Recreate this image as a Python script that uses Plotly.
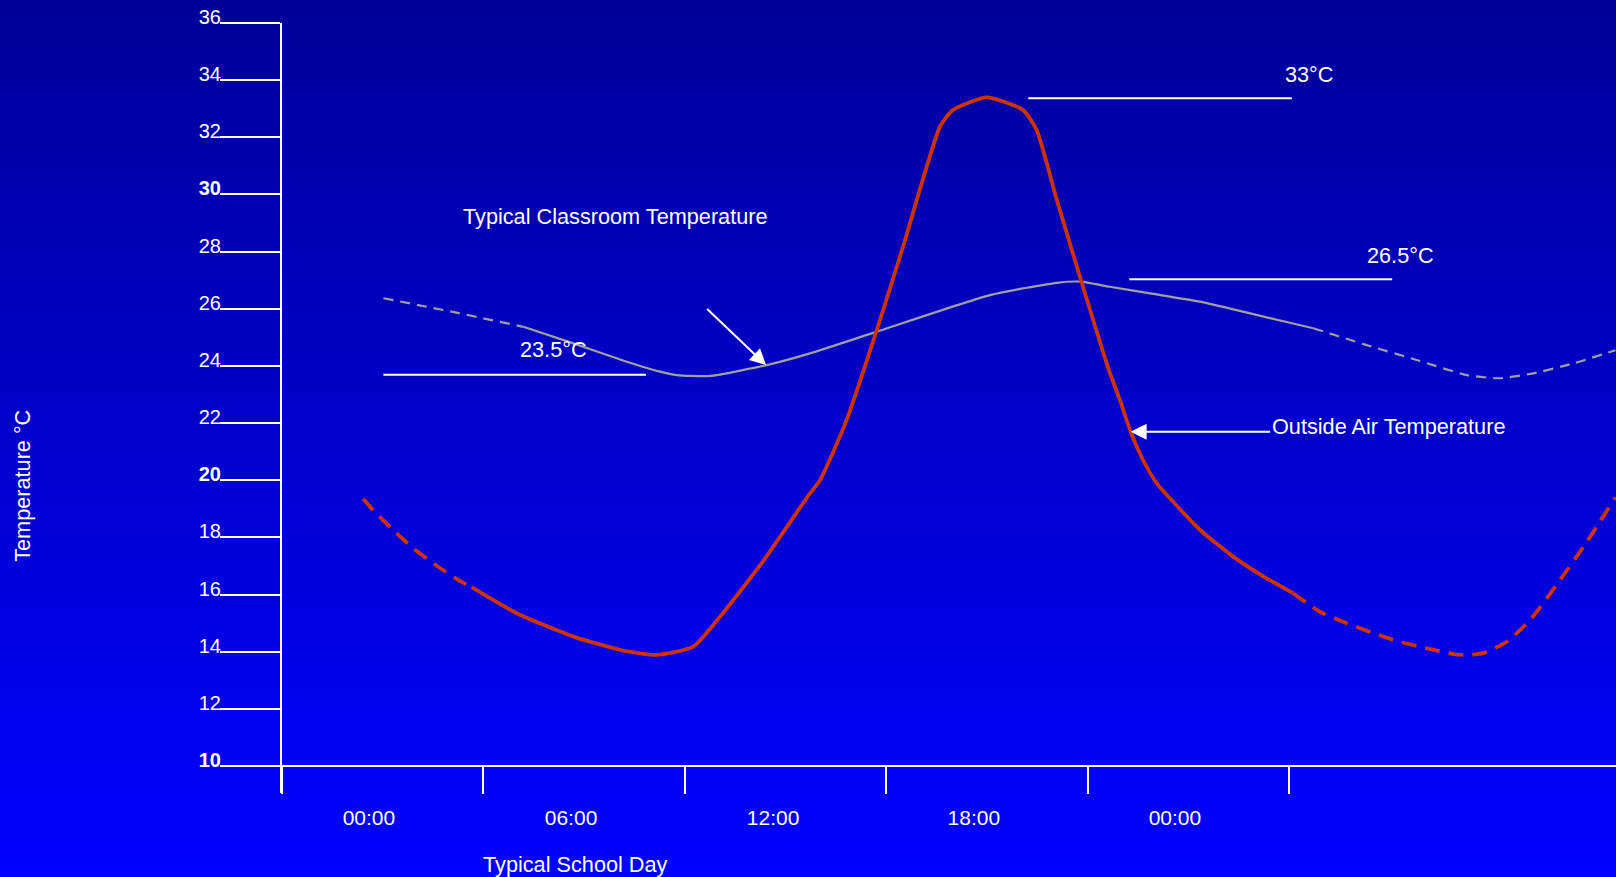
import plotly.graph_objects as go

# ---------------- data (hours from axis origin, °C) ----------------
outside_left_h = [2.42, 2.71, 3.31, 3.90, 4.62, 5.30, 5.65]
outside_left_t = [19.35, 18.96, 18.26, 17.63, 17.00, 16.48, 16.26]

outside_mid_h = [5.65, 6.99, 8.68, 10.17, 11.16, 12.25, 13.05, 14.32, 15.70, 16.03, 16.82,
                 17.72, 18.50, 19.60, 19.99, 20.99, 22.07, 22.48, 23.08, 23.86, 24.60, 24.96,
                 25.28, 25.65, 26.06, 26.45, 27.35, 28.33, 29.33, 30.12]
outside_mid_t = [16.26, 15.35, 14.53, 14.04, 13.89, 14.18, 15.23, 17.15, 19.50, 20.01, 22.11,
                 25.26, 28.17, 32.37, 32.96, 33.40, 32.96, 32.26, 29.81, 26.77, 23.97, 22.81,
                 21.70, 20.71, 19.89, 19.37, 18.26, 17.33, 16.57, 16.05]

outside_right_h = [30.12, 30.92, 31.72, 32.51, 33.30, 34.10, 34.94, 35.29, 35.79, 36.48,
                   37.18, 38.07, 38.87, 39.72]
outside_right_t = [16.05, 15.40, 15.00, 14.65, 14.35, 14.12, 13.91, 13.89, 13.95, 14.35,
                   15.11, 16.51, 17.85, 19.40]

class_left_h = [3.02, 5.09, 7.19]
class_left_t = [26.37, 25.89, 25.37]

class_mid_h = [7.19, 8.68, 10.27, 11.26, 11.76, 12.75, 14.44, 15.73, 17.72, 21.09, 23.08,
               23.77, 24.66, 25.86, 27.35, 28.84, 30.72]
class_mid_t = [25.37, 24.79, 24.15, 23.80, 23.68, 23.65, 24.03, 24.44, 25.20, 26.48, 26.91,
               26.95, 26.77, 26.54, 26.25, 25.84, 25.32]

class_right_h = [30.72, 32.31, 33.80, 35.29, 36.28, 37.27, 38.47, 39.72]
class_right_t = [25.32, 24.73, 24.21, 23.68, 23.57, 23.74, 24.09, 24.55]

y_tick_vals = [10, 12, 14, 16, 18, 20, 22, 24, 26, 28, 30, 32, 34, 36]
y_tick_text = ["<b>10</b>", "12", "14", "16", "18", "<b>20</b>", "22", "24", "26", "28",
               "<b>30</b>", "32", "34", "36"]
x_major_ticks = [0, 6, 12, 18, 24, 30]
x_labels = ["00:00", "06:00", "12:00", "18:00", "00:00"]
x_label_pos = [2.59, 8.61, 14.63, 20.61, 26.60]

# ---------------- layout geometry ----------------
W, H = 1616, 877
ML, MR, MT, MB = 282, 0, 23, 84
PX_PER_H = 33.57
PX_PER_C = 28.58
XMAX = (W - ML - MR) / PX_PER_H
YHI = 36.0
YLO = YHI - (H - MT - MB) / PX_PER_C
XAXIS_POS = (10 - YLO) / (YHI - YLO)


def px(h):
    return h / XMAX


def py(t):
    return (t - YLO) / (YHI - YLO)


FONT = "Liberation Sans, Arial, sans-serif"
RED = "#CC3300"
GREY = "#A0A0A0"
WHITE = "white"

fig = go.Figure()


def add_line(x, y, color, width, dash):
    fig.add_trace(go.Scatter(x=x, y=y, mode="lines",
                             line=dict(color=color, width=width, dash=dash,
                                       shape="spline", smoothing=0.55),
                             hoverinfo="skip", showlegend=False, cliponaxis=False))


add_line(class_left_h, class_left_t, GREY, 2.2, "10px,7px")
add_line(class_mid_h, class_mid_t, GREY, 2.2, "solid")
add_line(class_right_h, class_right_t, GREY, 2.2, "10px,7px")
add_line(outside_left_h, outside_left_t, RED, 3.8, "15px,9px")
add_line(outside_mid_h, outside_mid_t, RED, 3.8, "solid")
add_line(outside_right_h, outside_right_t, RED, 3.8, "15px,9px")

# ---------------- background gradient ----------------
shapes = []
N = 120
pw, ph = W - ML - MR, H - MT - MB
y_bottom = -MB / ph
y_top = 1 + MT / ph
for i in range(N):
    f0 = i / N
    f1 = (i + 1) / N
    c = 152 + (255 - 152) * ((f0 + f1) / 2)
    shapes.append(dict(type="rect", xref="paper", yref="paper",
                       x0=-ML / pw - 0.01, x1=1 + MR / pw + 0.01,
                       y0=y_top - (y_top - y_bottom) * f1 - 0.001,
                       y1=y_top - (y_top - y_bottom) * f0 + (0.01 if i == 0 else 0),
                       fillcolor=f"rgb(0,0,{int(round(c))})",
                       line=dict(width=0), layer="below"))

# leader lines for value labels
for (x0, x1, yv) in [(3.02, 10.84, 23.69), (22.23, 30.08, 33.37), (25.24, 33.07, 27.03)]:
    shapes.append(dict(type="line", xref="x", yref="y", x0=x0, x1=x1, y0=yv, y1=yv,
                       line=dict(color=WHITE, width=2), layer="above"))

tf = dict(family=FONT, size=21.7, color=WHITE)
C = dict(xanchor="center", yanchor="middle", showarrow=False, font=tf)
annotations = [
    dict(x=9.92, y=29.22, text="Typical Classroom Temperature", **C),
    dict(x=8.10, y=24.57, text="23.5°C", **C),
    dict(x=30.59, y=34.20, text="33°C", **C),
    dict(x=33.32, y=27.85, text="26.5°C", **C),
    dict(x=32.95, y=21.87, text="Outside Air Temperature", **C),
    dict(x=14.42, y=24.03, ax=12.62, ay=26.04, axref="x", ayref="y", text="",
         showarrow=True, arrowhead=2, arrowsize=1.6, arrowwidth=2, arrowcolor=WHITE, standoff=0),
    dict(x=25.28, y=21.70, ax=29.48, ay=21.70, axref="x", ayref="y", text="",
         showarrow=True, arrowhead=2, arrowsize=1.6, arrowwidth=2, arrowcolor=WHITE, standoff=0),
    dict(xref="paper", yref="paper", x=px(8.73), y=py(6.54), text="Typical School Day", **C),
    dict(xref="paper", yref="paper", x=px(-7.72), y=py(19.80), text="Temperature °C",
         textangle=-90, **C),
]

fig.update_layout(
    width=W, height=H, autosize=False,
    margin=dict(l=ML, r=MR, t=MT, b=MB, pad=0),
    paper_bgcolor="rgb(0,0,200)", plot_bgcolor="rgba(0,0,0,0)",
    shapes=shapes, annotations=annotations, showlegend=False,
    xaxis=dict(range=[0, XMAX], anchor="free", position=XAXIS_POS,
               showline=True, linecolor=WHITE, linewidth=2, showgrid=False, zeroline=False,
               tickmode="array", tickvals=x_label_pos, ticktext=x_labels, ticks="",
               tickfont=dict(family=FONT, size=21, color=WHITE), ticklabelstandoff=33,
               minor=dict(tickmode="array", tickvals=x_major_ticks, ticks="outside",
                          ticklen=27, tickwidth=2, tickcolor=WHITE, showgrid=False)),
    yaxis=dict(range=[YLO, YHI], showline=True, linecolor=WHITE, linewidth=2,
               showgrid=False, zeroline=False, ticks="outside", ticklen=60, tickwidth=2,
               tickcolor=WHITE, tickmode="array", tickvals=y_tick_vals, ticktext=y_tick_text,
               tickfont=dict(family=FONT, size=20, color=WHITE),
               ticklabelshift=-6, ticklabelstandoff=-5),
)

fig.write_html("out.html", config={"displayModeBar": False},
               post_script="document.body.style.margin='0';"
                           "document.body.style.overflow='hidden';")
